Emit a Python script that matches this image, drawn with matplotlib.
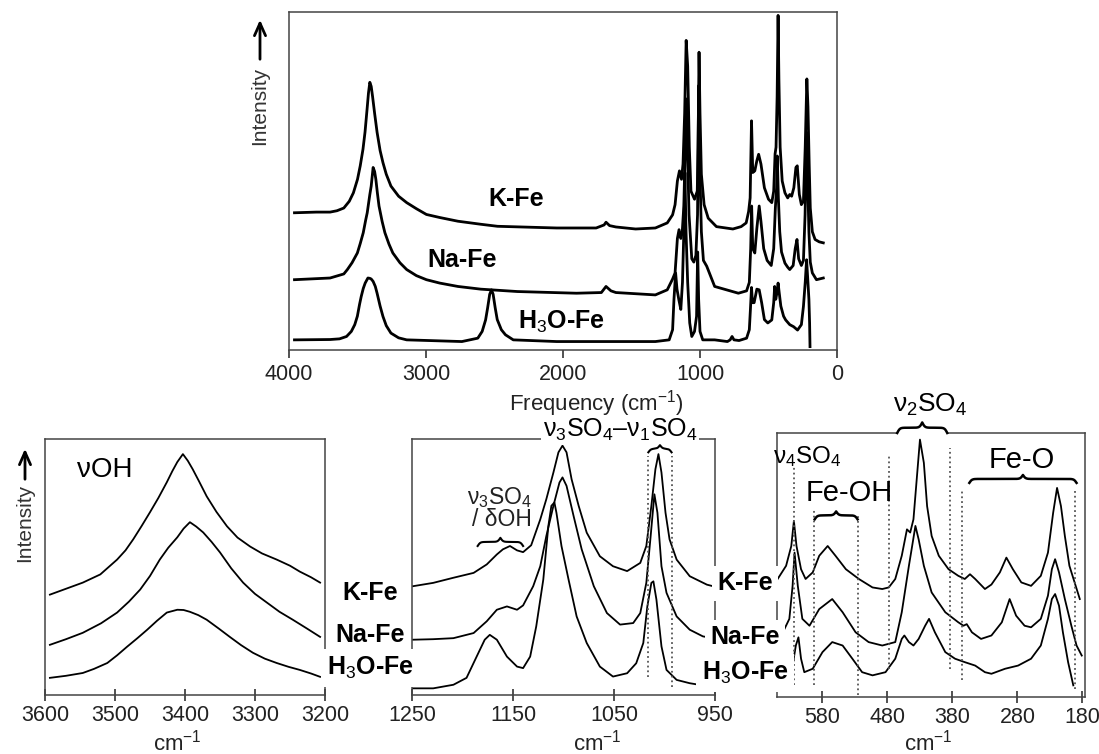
import numpy as np
import matplotlib
matplotlib.use('Agg')
import matplotlib.pyplot as plt
from matplotlib.patches import FancyArrowPatch

plt.rcParams['font.family'] = ['Liberation Sans', 'DejaVu Sans']
plt.rcParams['mathtext.fontset'] = 'custom'
plt.rcParams['mathtext.rm'] = 'Liberation Sans'
plt.rcParams['mathtext.it'] = 'Liberation Sans:italic'
plt.rcParams['mathtext.bf'] = 'Liberation Sans:bold'

samples = ['K-Fe', 'Na-Fe', 'H$_3$O-Fe']

# survey spectra 4000-100 cm-1 (stacked, arbitrary intensity)
full_kfe_x = [3960, 3800, 3700, 3650, 3600, 3560, 3530, 3500, 3480, 3460, 3445, 3430, 3420, 3410,
              3400, 3390, 3375, 3357, 3335, 3314, 3290, 3256, 3200, 3141, 3070, 2997, 2900, 2767,
              2600, 2478, 2046, 1758, 1700, 1686, 1660, 1614, 1470, 1326, 1239, 1200, 1182,
              1165, 1150, 1135, 1124, 1112, 1101, 1090, 1078, 1066, 1040, 1020, 1014, 1007, 1000,
              990, 970, 940, 880, 760, 700, 663, 645, 634, 624, 615, 600, 585, 572, 555, 530, 500,
              476, 462, 452, 445, 437, 430, 424, 415, 400, 380, 360, 345, 331, 315, 300, 290, 275,
              260, 245, 232, 220, 212, 203, 195, 180, 160, 130, 100]
full_kfe_y = [40.6, 40.8, 40.8, 41.2, 42.0, 44.0, 46.5, 50.5, 54.5, 59.4, 64.5, 71.3, 76.0, 79.2,
              78.0, 75.0, 70.0, 64.4, 59.0, 55.4, 52.0, 48.5, 45.5, 43.6, 41.8, 40.1, 39.2, 38.1,
              37.2, 36.6, 36.1, 36.1, 37.0, 37.8, 36.8, 36.4, 35.8, 36.1, 37.6, 40.0, 43.0,
              50.0, 53.0, 50.5, 55.0, 70.0, 91.6, 84.0, 60.0, 47.0, 44.6, 47.0, 60.0, 88.1, 70.0,
              52.0, 43.0, 39.0, 36.5, 35.8, 36.5, 37.6, 41.0, 45.0, 67.8, 52.5, 53.0, 56.0, 57.9,
              55.0, 48.0, 44.6, 43.6, 47.0, 58.0, 60.0, 75.0, 99.0, 80.0, 60.0, 50.0, 46.5, 45.0,
              46.0, 45.5, 48.0, 54.0, 54.5, 46.0, 43.0, 44.0, 60.0, 80.2, 72.0, 55.0, 42.0, 35.0,
              32.7, 32.0, 31.7]

full_nafe_x = [3960, 3700, 3600, 3574, 3540, 3501, 3480, 3458, 3440, 3429, 3410, 3400, 3386, 3375,
               3366, 3355, 3343, 3320, 3300, 3270, 3242, 3190, 3141, 3070, 2997, 2900, 2767, 2600,
               2334, 1902, 1720, 1686, 1650, 1614, 1326, 1239, 1200, 1182, 1165, 1153, 1140,
               1130, 1118, 1108, 1101, 1092, 1080, 1060, 1045, 1030, 1018, 1010, 1002, 990, 975,
               951, 893, 720, 660, 640, 630, 623, 615, 600, 585, 568, 555, 535, 510, 480, 462, 450,
               441, 436, 428, 418, 405, 380, 360, 345, 320, 305, 292, 280, 260, 245, 233, 222, 214,
               205, 195, 180, 150, 100]
full_nafe_y = [20.8, 21.3, 22.5, 23.8, 25.8, 28.7, 31.5, 34.7, 38.5, 40.6, 46.0, 48.5, 54.0, 52.8,
               50.5, 46.5, 42.6, 38.0, 34.7, 31.3, 28.7, 25.8, 23.8, 22.0, 20.8, 19.8, 18.8, 18.0,
               17.3, 16.8, 17.0, 18.8, 17.5, 17.0, 16.3, 17.8, 21.0, 22.8, 33.0, 35.6, 33.0,
               34.7, 42.6, 60.0, 74.3, 60.0, 40.0, 27.0, 26.0, 28.0, 40.0, 78.2, 55.0, 35.0, 26.5,
               24.8, 18.8, 16.8, 17.5, 20.0, 30.0, 42.6, 30.0, 28.7, 36.0, 42.6, 38.0, 30.0, 26.5,
               25.0, 30.0, 42.0, 48.0, 57.4, 45.0, 35.0, 29.0, 25.7, 24.5, 23.8, 25.0, 30.0, 32.7,
               27.0, 25.0, 26.5, 40.0, 64.4, 50.0, 35.0, 26.0, 22.8, 20.8, 21.3]

full_h3o_x = [3960, 3700, 3631, 3580, 3545, 3520, 3501, 3485, 3473, 3458, 3444, 3424, 3410, 3400,
              3386, 3370, 3357, 3335, 3314, 3290, 3256, 3200, 3141, 2738, 2622, 2590, 2565, 2550,
              2535, 2522, 2510, 2495, 2480, 2465, 2450, 2420, 2363, 2046, 1326, 1225, 1200, 1190,
              1178, 1168, 1155, 1140, 1128, 1118, 1110, 1102, 1090, 1075, 1060, 1040, 1025, 1017,
              1010, 1000, 980, 893, 800, 780, 766, 752, 715, 660, 640, 632, 624, 617, 605, 585,
              568, 550, 530, 505, 476, 462, 455, 447, 438, 430, 422, 410, 390, 375, 345, 317, 288,
              260, 245, 232, 222, 215, 205, 200, 197]
full_h3o_y = [3.0, 3.1, 3.3, 4.0, 5.5, 7.5, 10.0, 13.5, 15.8, 18.2, 19.8, 21.3, 21.2, 21.0,
              20.3, 18.8, 16.8, 13.0, 9.9, 7.2, 5.0, 3.6, 3.0, 2.5, 3.5, 5.5, 8.9, 12.5,
              16.5, 17.8, 16.5, 12.5, 9.0, 7.5, 6.0, 4.5, 3.0, 2.5, 2.5, 3.0, 6.0, 15.0,
              22.8, 18.0, 15.0, 12.0, 20.0, 35.0, 52.5, 35.0, 20.0, 8.0, 4.0, 5.5, 10.0, 29.0,
              15.0, 5.5, 3.0, 3.0, 2.5, 3.0, 4.0, 3.0, 2.8, 3.5, 6.0, 12.0, 18.5, 14.0, 14.0, 18.0,
              17.8, 14.0, 9.0, 8.0, 8.9, 14.0, 18.8, 15.0, 17.0, 19.8, 17.0, 13.0, 10.0, 8.9, 7.5,
              6.9, 5.9, 7.5, 12.9, 20.0, 26.7, 22.0, 15.0, 8.0, 1.0]

# OH stretching region
oh_kfe_x = [3593, 3570, 3546, 3521, 3497, 3485, 3474, 3462, 3450, 3438, 3426, 3418, 3411, 3403,
            3396, 3389, 3380, 3369, 3355, 3340, 3325, 3307, 3290, 3269, 3250, 3236, 3220, 3207]
oh_kfe_y = [39.2, 41.5, 43.9, 47.1, 52.9, 56.5, 60.8, 66.0, 71.4, 77.0, 83.1, 87.5, 91.0, 94.1,
            91.5, 88.2, 83.5, 77.6, 71.5, 65.9, 61.5, 58.0, 55.3, 52.9, 50.5, 48.2, 46.0, 43.9]
oh_nafe_x = [3593, 3570, 3546, 3520, 3497, 3480, 3464, 3450, 3436, 3424, 3411, 3402, 3393, 3384,
             3374, 3362, 3350, 3334, 3317, 3300, 3283, 3265, 3246, 3226, 3207]
oh_nafe_y = [19.6, 21.8, 24.3, 28.0, 32.2, 36.5, 41.2, 46.5, 52.9, 57.5, 61.6, 65.0, 67.5, 65.8,
             63.5, 59.8, 55.7, 49.5, 43.9, 39.5, 36.1, 32.5, 29.4, 26.0, 22.7]
oh_h3o_x = [3593, 3570, 3546, 3530, 3511, 3497, 3483, 3468, 3454, 3440, 3426, 3411, 3402, 3393,
            3381, 3369, 3352, 3336, 3320, 3303, 3286, 3269, 3252, 3236, 3220, 3207]
oh_h3o_y = [6.7, 7.5, 8.6, 10.2, 12.5, 15.5, 18.8, 22.2, 25.5, 29.0, 32.2, 33.3, 33.2, 32.5,
            31.2, 29.4, 26.0, 22.7, 19.5, 16.5, 14.2, 12.5, 11.0, 9.8, 8.4, 7.1]

# sulfate stretching region
so4_kfe_x = [1249, 1229, 1209, 1189, 1176, 1166, 1160, 1153, 1146, 1140, 1132, 1123, 1117, 1110,
             1105, 1101, 1097, 1092, 1085, 1077, 1064, 1051, 1037, 1024, 1018, 1013, 1009, 1006,
             1003, 999, 995, 988, 975, 958, 952]
so4_kfe_y = [42.5, 43.8, 45.8, 47.7, 51.0, 54.9, 56.9, 58.2, 56.5, 55.8, 58.5, 68.6, 76.5, 86.9,
             94.8, 97.4, 94.8, 84.3, 73.9, 63.4, 54.2, 50.3, 48.4, 51.6, 58.2, 73.9, 88.2, 94.1,
             86.9, 71.2, 60.8, 52.9, 46.4, 43.1, 42.5]
so4_nafe_x = [1249, 1229, 1209, 1189, 1176, 1166, 1156, 1146, 1140, 1130, 1123, 1117, 1110, 1104,
              1101, 1097, 1090, 1082, 1070, 1057, 1044, 1031, 1024, 1018, 1014, 1010, 1007, 1003,
              998, 988, 975, 962, 952]
so4_nafe_y = [21.6, 21.8, 22.2, 24.2, 28.8, 33.3, 34.6, 33.3, 35.0, 42.5, 50.3, 62.1, 73.9, 83.0,
              85.0, 81.7, 69.9, 56.9, 42.5, 32.0, 27.5, 28.1, 32.0, 43.8, 60.8, 78.4, 71.2, 50.3,
              39.9, 30.7, 25.5, 22.9, 22.2]
so4_h3o_x = [1249, 1229, 1209, 1196, 1186, 1178, 1173, 1166, 1156, 1146, 1140, 1133, 1127, 1120,
             1115, 1112, 1109, 1107, 1102, 1095, 1087, 1077, 1064, 1051, 1037, 1028, 1021, 1017,
             1013, 1011, 1008, 1003, 998, 988, 975, 955]
so4_h3o_y = [2.6, 2.6, 4.0, 6.7, 15.0, 21.6, 23.5, 21.6, 15.0, 11.1, 10.5, 15.0, 26.8, 45.1,
             66.0, 73.9, 75.2, 71.2, 58.2, 45.1, 30.7, 20.3, 11.1, 7.2, 8.5, 12.4, 20.3, 34.6,
             43.8, 44.4, 37.3, 19.0, 9.8, 5.9, 4.6, 3.3]

# bending / lattice region
low_kfe_x = [649, 636, 628, 624, 620, 613, 606, 595, 585, 572, 560, 544, 524, 503, 488, 478, 468,
             458, 450, 445, 440, 435, 430, 424, 419, 412, 401, 386, 371, 361, 353, 345, 330, 320,
             307, 297, 287, 274, 259, 244, 233, 225, 219, 213, 207, 200, 192, 184]
low_kfe_y = [44.7, 49.7, 57.2, 66.7, 57.2, 48.4, 44.7, 47.2, 53.5, 57.2, 53.5, 48.4, 44.7, 41.5,
             40.9, 41.5, 44.7, 53.5, 63.5, 62.3, 67.3, 82.4, 97.5, 88.7, 72.3, 61.0, 53.5, 48.4,
             45.9, 44.7, 46.5, 44.7, 40.9, 42.6, 47.2, 52.8, 48.4, 43.4, 42.1, 45.9, 54.7, 69.8,
             79.2, 72.3, 61.0, 49.7, 43.4, 37.1]
low_nafe_x = [641, 631, 626, 623, 618, 611, 600, 585, 565, 549, 529, 509, 488, 468, 458, 447, 442,
              437, 432, 424, 412, 391, 371, 363, 358, 350, 336, 320, 304, 292, 282, 269, 259, 244,
              233, 227, 222, 216, 207, 197, 189, 181]
low_nafe_y = [24.5, 29.6, 42.1, 54.7, 42.1, 29.6, 27.0, 33.3, 37.1, 32.1, 24.5, 20.8, 19.5, 20.8,
              32.1, 49.7, 57.2, 64.8, 59.7, 49.7, 39.6, 32.1, 28.3, 27.0, 27.6, 24.5, 22.0, 23.3,
              28.3, 37.1, 30.8, 27.0, 26.4, 29.6, 38.4, 48.4, 52.2, 47.2, 37.1, 27.0, 19.5, 15.7]
low_h3o_x = [634, 626, 621, 617, 613, 608, 595, 580, 565, 549, 534, 519, 503, 483, 468, 458, 454,
             447, 440, 432, 422, 416, 407, 391, 376, 361, 345, 330, 320, 299, 279, 259, 244, 233,
             227, 222, 216, 210, 202, 194]
low_h3o_y = [6.3, 11.9, 19.5, 22.6, 14.5, 9.4, 10.7, 17.0, 20.8, 19.5, 14.5, 9.4, 8.2, 9.4, 14.5,
             22.0, 23.3, 20.8, 19.5, 22.0, 27.0, 29.6, 24.5, 17.0, 14.5, 13.2, 11.9, 9.4, 8.8, 10.7,
             11.9, 14.5, 19.5, 29.6, 37.1, 39.0, 34.6, 24.5, 13.2, 4.4]

# band limits (cm-1)
nu1_band = [1016, 993]
nu3_doh_band = [1185, 1140]
nu2_band = [465, 388]
feoh_band = [592, 526]
feo_band = [354, 189]

W, H = 1099, 754
fig = plt.figure(figsize=(W / 100, H / 100), dpi=100)


def panel(x0, y0, x1, y1):
    ax = fig.add_axes([x0 / W, 1 - y1 / H, (x1 - x0) / W, (y1 - y0) / H])
    ax.set_ylim(0, 100)
    ax.set_yticks([])
    for sp in ax.spines.values():
        sp.set_color('#444')
        sp.set_linewidth(1.1)
    ax.tick_params(axis='x', labelsize=15.5, colors='#222', length=8, width=1.1,
                   direction='inout', pad=3)
    return ax


def brace(ax, x0, x1, y, h, lw=1.8):
    # curly brace with the tip pointing up, ends at height y
    px = ax.bbox.width / abs(ax.get_xlim()[0] - ax.get_xlim()[1])
    s = 1.3 / px
    half = abs(x1 - x0) / 2
    t = np.linspace(0, half, 80)
    yh = 1 / (1 + np.exp(-t / s)) + 1 / (1 + np.exp(-(t - half) / s))
    sgn = np.sign(x1 - x0)
    xs = np.concatenate([x0 + sgn * t, x1 - sgn * t[-2::-1]])
    ys = np.concatenate([yh, yh[-2::-1]])
    ax.plot(xs, y + (ys - 0.5) * h, color='black', lw=lw, clip_on=False, zorder=6)


def intensity(x, y_text, y_tail, y_head):
    fig.text(x / W, 1 - y_text / H, 'Intensity', rotation=90, ha='center', va='center',
             fontsize=15, color='#333')
    fig.add_artist(FancyArrowPatch((x / W, 1 - y_tail / H), (x / W, 1 - y_head / H),
                                   transform=fig.transFigure, mutation_scale=20, lw=2,
                                   arrowstyle='->,head_length=0.45,head_width=0.2', color='black'))


# survey
ax0 = panel(289, 12, 837, 350)
ax0.tick_params(axis='x', direction='out', length=6, pad=4)
ax0.set_xlim(4000, 0)
ax0.set_xticks([4000, 3000, 2000, 1000, 0])
for xs, ys in [(full_kfe_x, full_kfe_y), (full_nafe_x, full_nafe_y), (full_h3o_x, full_h3o_y)]:
    ax0.plot(xs, ys, color='black', lw=2.0)
for name, xp, yp in zip(samples, [2343, 2738, 2012], [44.8, 26.5, 8.4]):
    ax0.text(xp, yp, name, ha='center', va='center', fontsize=18, fontweight='bold')
fig.text(596 / W, 1 - 404 / H, 'Frequency (cm$^{-1}$)', ha='center', va='center',
         fontsize=16, color='#222')
intensity(260, 106, 62, 17)

# OH region
ax1 = panel(45, 439, 325, 695)
ax1.set_xlim(3600, 3200)
ax1.set_xticks([3600, 3500, 3400, 3300, 3200])
for xs, ys in [(oh_kfe_x, oh_kfe_y), (oh_nafe_x, oh_nafe_y), (oh_h3o_x, oh_h3o_y)]:
    ax1.plot(xs, ys, color='black', lw=1.3)
ax1.text(3514, 88, 'νOH', ha='center', va='center', fontsize=20)
intensity(25, 523, 482, 446)

# SO4 stretching region
ax2 = panel(412, 439, 715, 695)
ax2.set_xlim(1250, 950)
ax2.set_xticks([1250, 1150, 1050, 950])
for xs, ys in [(so4_kfe_x, so4_kfe_y), (so4_nafe_x, so4_nafe_y), (so4_h3o_x, so4_h3o_y)]:
    ax2.plot(xs, ys, color='black', lw=1.3)
ax2.vlines(nu1_band[0], 7.2, 93.5, colors='#555', linestyles=':', lw=1.3)
ax2.vlines(nu1_band[1], 3.3, 93.5, colors='#555', linestyles=':', lw=1.3)
ax2.text(1044, 100.8, 'ν$_3$SO$_4$–ν$_1$SO$_4$', ha='center', va='baseline', fontsize=18,
         clip_on=False, zorder=5, bbox=dict(fc='white', ec='none', pad=1))
brace(ax2, nu1_band[0], nu1_band[1], 94.8, 2.8, lw=1.5)
ax2.text(1163, 74.5, 'ν$_3$SO$_4$', ha='center', va='baseline', fontsize=16.5, color='#222')
ax2.text(1161, 65.9, '/ δOH', ha='center', va='baseline', fontsize=16.5, color='#222')
brace(ax2, nu3_doh_band[0], nu3_doh_band[1], 58.2, 3.2, lw=1.5)

# bending and lattice region
ax3 = panel(777, 433, 1085, 697)
ax3.set_xlim(650, 176)
ax3.set_xticks([580, 480, 380, 280, 180])
for xs, ys in [(low_kfe_x, low_kfe_y), (low_nafe_x, low_nafe_y), (low_h3o_x, low_h3o_y)]:
    ax3.plot(xs, ys, color='black', lw=1.3)
dots = [(624, 4.4, 87.4), (593, 4.4, 71.1), (526, 0.6, 68.6), (478, 10.7, 91.8),
        (384, 10.7, 94.3), (366, 6.3, 78.0), (192, 3.1, 78.0)]
for xv, lo, hi in dots:
    ax3.vlines(xv, lo, hi, colors='#555', linestyles=':', lw=1.3)
ax3.plot(nu2_band, [100, 100], color='white', lw=3, zorder=3, clip_on=False,
         solid_capstyle='butt')
brace(ax3, nu2_band[0], nu2_band[1], 100, 4.0)
brace(ax3, feoh_band[0], feoh_band[1], 67.3, 3.0)
brace(ax3, feo_band[0], feo_band[1], 81.1, 3.0)
ax3.text(414, 110.7, 'ν$_2$SO$_4$', ha='center', va='center', fontsize=19, clip_on=False)
ax3.text(603, 91, 'ν$_4$SO$_4$', ha='center', va='center', fontsize=17.5)
ax3.text(539, 77.1, 'Fe-OH', ha='center', va='center', fontsize=21)
ax3.text(274, 89.9, 'Fe-O', ha='center', va='center', fontsize=21)

# sample labels between the detail panels
for xc, ycs in [(370, [593, 635, 668]), (745, [583, 637, 673])]:
    for name, yc in zip(samples, ycs):
        fig.text(xc / W, 1 - yc / H, name, ha='center', va='center', fontsize=18,
                 fontweight='bold', bbox=dict(fc='white', ec='none', pad=4))

for xc in [177, 597, 928]:
    fig.text(xc / W, 1 - 743 / H, 'cm$^{-1}$', ha='center', va='center', fontsize=16,
             color='#222')

fig.savefig('out.png', dpi=100)
